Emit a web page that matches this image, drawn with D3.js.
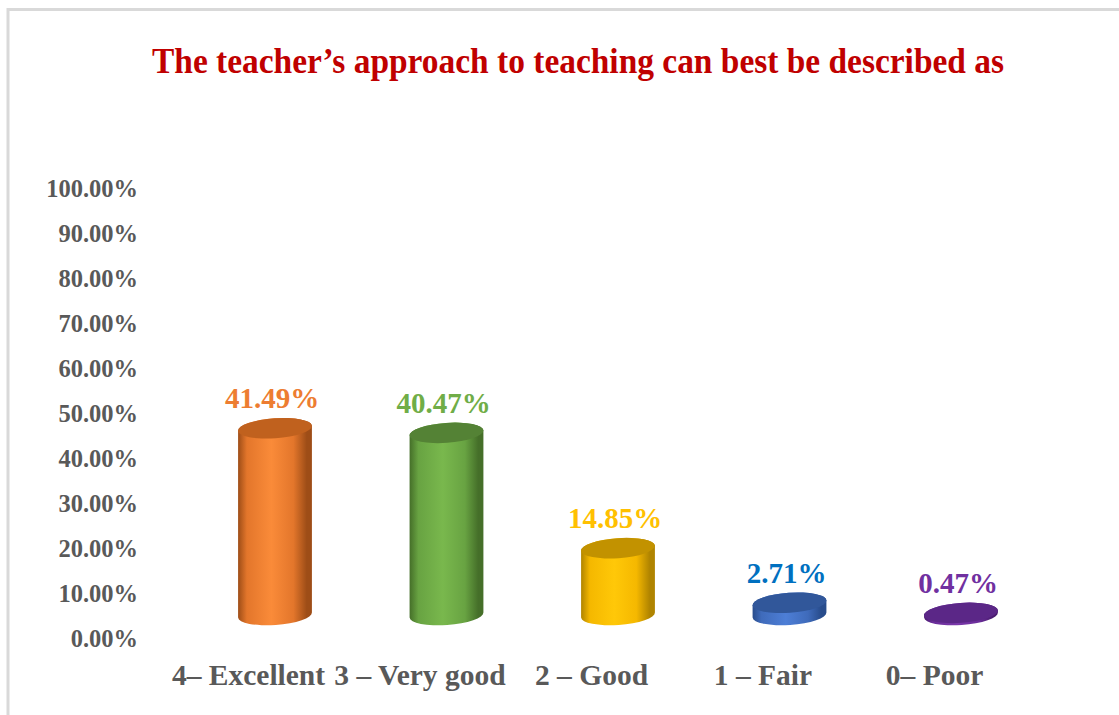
<!DOCTYPE html>
<html><head><meta charset="utf-8">
<script src="https://cdn.jsdelivr.net/npm/d3@7"></script>
<style>html,body{margin:0;padding:0;background:#fff;}svg{display:block;}</style>
</head><body>
<svg id="c" width="1119" height="715"></svg>
<script>
const categories = ["4– Excellent", "3 – Very good", "2 – Good", "1 – Fair", "0– Poor"];
const values = [0.4149, 0.4047, 0.1485, 0.0271, 0.0047];
const valueLabels = ["41.49%", "40.47%", "14.85%", "2.71%", "0.47%"];
const yTicks = [0, 0.1, 0.2, 0.3, 0.4, 0.5, 0.6, 0.7, 0.8, 0.9, 1.0];
const title = "The teacher’s approach to teaching can best be described as";

const palette = [
  {dark:"#9E4D17", mid:"#E3762B", light:"#FA8B39", top:"#C0611E", label:"#ED7D31"},
  {dark:"#456F29", mid:"#68A342", light:"#79B84D", top:"#548235", label:"#70AD47"},
  {dark:"#B08400", mid:"#F5B800", light:"#FFC808", top:"#C29200", label:"#FFC000"},
  {dark:"#284C8C", mid:"#3F6BBB", light:"#4D7ED6", top:"#31579A", label:"#0070C0"},
  {dark:"#4A1C70", mid:"#6A2D99", light:"#7A38AA", top:"#5B2787", label:"#7030A0"}
];

const svg = d3.select("#c");
const font = "'Liberation Serif','Times New Roman',serif";

// border
svg.append("rect").attr("x",8).attr("y",9.5).attr("width",1200).attr("height",800)
  .attr("fill","none").attr("stroke","#D9D9D9").attr("stroke-width",3);

// title
svg.append("text").attr("x",578).attr("y",73).attr("text-anchor","middle")
  .attr("font-family",font).attr("font-weight","bold").attr("font-size",36)
  .attr("fill","#C00000").attr("textLength",852).attr("lengthAdjust","spacingAndGlyphs")
  .text(title);

const y = d3.scaleLinear().domain([0,1]).range([638,188]);
const x = d3.scalePoint().domain(categories).range([275,961]);

// y axis labels
const yAxis = d3.axisLeft(y).tickValues(yTicks).tickSize(0).tickPadding(0)
  .tickFormat(d => (d*100).toFixed(2) + "%");
const ga = svg.append("g").attr("transform","translate(138,0)").call(yAxis);
ga.select(".domain").remove();
ga.selectAll("text").attr("font-family",font).attr("font-weight","bold")
  .attr("font-size",24.5).attr("fill","#595959").attr("dy","0.35em");

// cylinders
const defs = svg.append("defs");
palette.forEach((p,i)=>{
  const g = defs.append("linearGradient").attr("id","g"+i).attr("x1","0").attr("x2","1").attr("y1","0").attr("y2","0");
  [[0,p.dark],[0.12,p.mid],[0.45,p.light],[0.75,p.mid],[0.93,p.dark],[1,p.dark]].forEach(s=>
    g.append("stop").attr("offset",s[0]).attr("stop-color",s[1]));
});

const rx = 37, ry = 10, rot = -4;
const floorOff = 23;
const rad = rot*Math.PI/180;
const ex = rx*Math.cos(rad), ey = rx*Math.sin(rad);

const bars = svg.append("g");
categories.forEach((c,i)=>{
  const cx = x(c);
  const base = y(0) - floorOff;
  const top = y(values[i]) - floorOff;
  const p = palette[i];
  const d = `M${cx-ex},${top-ey} L${cx-ex},${base-ey} A${rx},${ry} ${rot} 0 0 ${cx+ex},${base+ey} L${cx+ex},${top+ey} A${rx},${ry} ${rot} 0 0 ${cx-ex},${top-ey} Z`;
  bars.append("path").attr("d",d).attr("fill","url(#g"+i+")");
  bars.append("ellipse").attr("cx",cx).attr("cy",top).attr("rx",rx).attr("ry",ry)
    .attr("transform",`rotate(${rot},${cx},${top})`).attr("fill",p.top);
  // value label
  svg.append("text").attr("x",cx - 3).attr("y",top-20).attr("text-anchor","middle")
    .attr("font-family",font).attr("font-weight","bold").attr("font-size",29)
    .attr("fill",p.label).text(valueLabels[i]);
});

// category labels
const xAxis = d3.axisBottom(x).tickSize(0).tickPadding(0);
const gx = svg.append("g").attr("transform","translate(-27,685)").call(xAxis);
gx.select(".domain").remove();
gx.selectAll("text").attr("font-family",font).attr("font-weight","bold")
  .attr("font-size",29.5).attr("fill","#595959").attr("dy",0).attr("y",0);
</script>
</body></html>
